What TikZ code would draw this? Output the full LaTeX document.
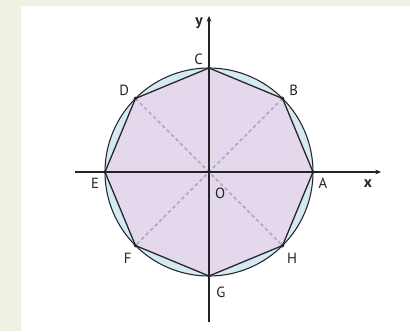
\documentclass[tikz,border=0pt]{standalone}
\usepackage{fontspec}
\setmainfont{PT Sans}
\usepackage{tikz}
\usetikzlibrary{arrows.meta}
\definecolor{pagegreen}{RGB}{238,242,226}
\definecolor{circblue}{RGB}{212,233,242}
\definecolor{octlilac}{RGB}{228,216,236}
\definecolor{diaglilac}{RGB}{184,160,200}
\definecolor{inkgray}{RGB}{35,35,40}

\begin{document}
\begin{tikzpicture}[
      axis/.style={-{Stealth[length=4pt, width=3.5pt]}, line width=0.8pt, color=inkgray},
      rim/.style={line width=0.75pt, color=inkgray},
      side/.style={line width=0.9pt, color=inkgray},
      diag/.style={dashed, dash pattern=on 2.5pt off 2pt, line width=1.1pt, color=diaglilac},
      vdot/.style={circle, fill=inkgray, inner sep=0pt, minimum size=2.8pt},
      lbl/.style={font=\fontsize{10.5}{12}\selectfont, text=inkgray, inner sep=0pt},
      axlbl/.style={lbl, font=\fontsize{11}{12}\selectfont\bfseries},
    ]
    % fond et cadre
    \useasboundingbox (-5.225,-3.975) rectangle (5.025,4.3);
    \fill[pagegreen] (-5.225,-3.975) rectangle (5.025,4.3);
    \fill[white] (-4.7,-3.975) rectangle (5.025,4.15);

    % sommets de l'octogone
    \foreach \name [count=\i from 0] in {A,B,C,D,E,F,G,H}
      \coordinate (\name) at (\i*45:2.6);
    \coordinate (O) at (0,0);

    \fill[circblue] (O) circle (2.6);
    \fill[octlilac] (A) -- (B) -- (C) -- (D) -- (E) -- (F) -- (G) -- (H) -- cycle;

    \draw[diag] (D) -- (H);
    \draw[diag] (B) -- (F);

    \draw[rim] (O) circle (2.6);
    \draw[side] (A) -- (B) -- (C) -- (D) -- (E) -- (F) -- (G) -- (H) -- cycle;

    % axes
    \coordinate (xl) at (-3.35,0);
    \coordinate (xr) at (4.3,0);
    \coordinate (yb) at (0,-3.75);
    \coordinate (yt) at (0,3.9);
    \draw[axis] (xl) -- (xr);
    \draw[axis] (yb) -- (yt);

    \foreach \name in {A,B,C,D,E,F,G,H,O}
      \node[vdot] at (\name) {};

    \node[axlbl] (lx) at (3.975,-0.3)    {x};
    \node[axlbl] (ly) at (-0.25,3.72)    {y};
    \node[lbl] (lA) at (2.85,-0.28)    {A};
    \node[lbl] (lB) at (2.12,2.03)     {B};
    \node[lbl] (lC) at (-0.26,2.82)    {C};
    \node[lbl] (lD) at (-2.12,2.03)    {D};
    \node[lbl] (lE) at (-2.85,-0.28)   {E};
    \node[lbl] (lF) at (-2.03,-2.15)   {F};
    \node[lbl] (lG) at (0.3,-3.0)      {G};
    \node[lbl] (lH) at (2.08,-2.15)    {H};
    \node[lbl] (lO) at (0.28,-0.53)    {O};
  \end{tikzpicture}
\end{document}
